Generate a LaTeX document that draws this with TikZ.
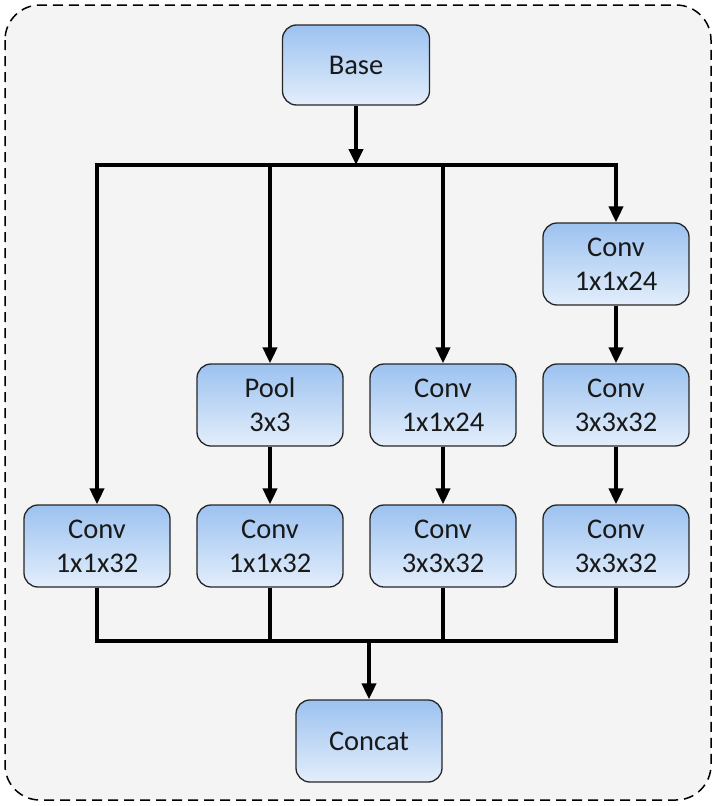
\documentclass[tikz,border=0pt]{standalone}
\usepackage{fontspec}
\setmainfont{Carlito}
\usetikzlibrary{arrows.meta}

\definecolor{bggray}{HTML}{F4F4F4}
\definecolor{topblue}{HTML}{9CC2F0}
\definecolor{botblue}{HTML}{E3EEFB}

\tikzset{
	block/.style={draw=black!85, line width=1.3pt, rounded corners=14pt,
		minimum width=146pt, minimum height=82pt, align=center,
		top color=topblue, bottom color=botblue, text=black!90,
		font=\fontsize{28.5}{34}\selectfont},
	flow/.style={line width=4pt, -{Triangle[length=16pt,width=14pt]}},
	bus/.style={line width=4pt}
}

\begin{document}
\begin{tikzpicture}[x=1pt,y=-1pt]
	\useasboundingbox (0,0) rectangle (716,806);
	\draw[line width=1.5pt, dash pattern=on 10pt off 6pt, rounded corners=35pt, fill=bggray] (5,5) rectangle (711,800);

	% nodes
	\node[block, minimum width=147pt, minimum height=80pt] (base) at (356,65) {Base};
	\node[block] (c4a) at (616,264) {Conv\\1x1x24};
	\node[block] (p2) at (270,405) {Pool\\3x3};
	\node[block] (c3a) at (443,405) {Conv\\1x1x24};
	\node[block] (c4b) at (616,405) {Conv\\3x3x32};
	\node[block] (c1) at (97,546) {Conv\\1x1x32};
	\node[block] (c2) at (270,546) {Conv\\1x1x32};
	\node[block] (c3b) at (443,546) {Conv\\3x3x32};
	\node[block] (c4c) at (616,546) {Conv\\3x3x32};
	\node[block] (concat) at (369,741) {Concat};

	\coordinate (split) at (356,165);
	\coordinate (join) at (369,641);

	% split
	\draw[flow] (base) -- (split);
	\draw[flow] (split) -| (c1);
	\draw[flow] (split) -| (c4a);
	\draw[flow] (p2 |- split) -- (p2);
	\draw[flow] (c3a |- split) -- (c3a);

	% branches
	\draw[flow] (p2) -- (c2);
	\draw[flow] (c3a) -- (c3b);
	\draw[flow] (c4a) -- (c4b);
	\draw[flow] (c4b) -- (c4c);

	% join
	\draw[bus] (c1) |- (join) -| (c4c);
	\draw[bus] (c2) -- (c2 |- join);
	\draw[bus] (c3b) -- (c3b |- join);
	\draw[flow] (join) -- (concat);
\end{tikzpicture}
\end{document}
